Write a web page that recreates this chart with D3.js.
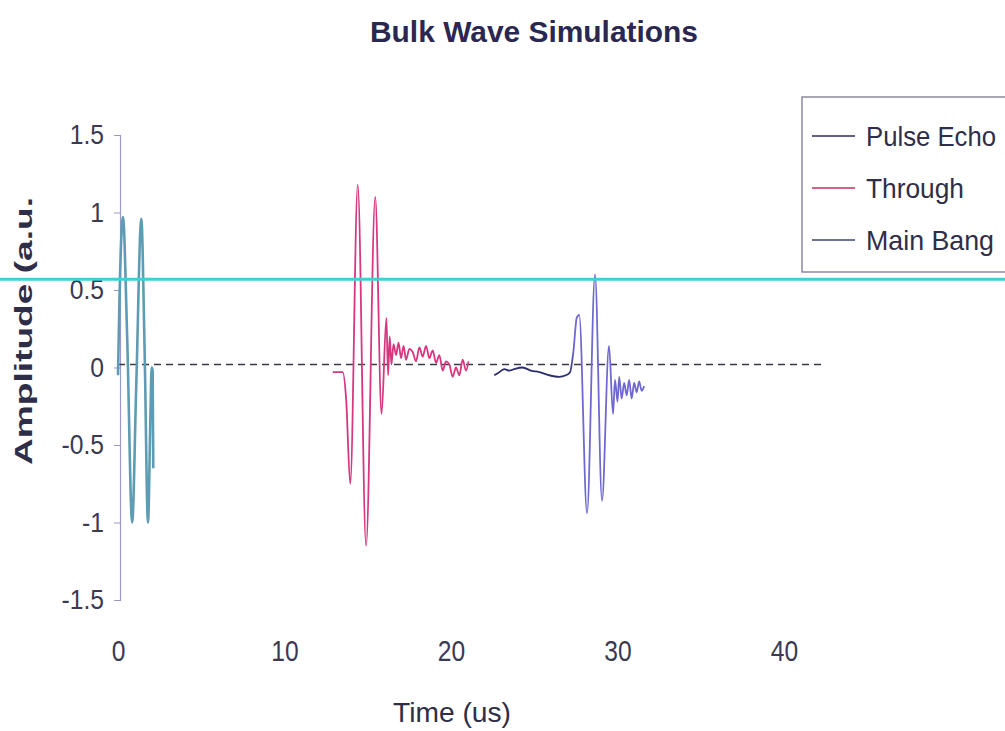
<!DOCTYPE html>
<html>
<head>
<meta charset="utf-8">
<script src="https://cdn.jsdelivr.net/npm/d3@7"></script>
<style>
  body { margin: 0; background: #fff; }
  svg { display: block; }
  text { fill: #2e2e48; }
</style>
</head>
<body>
<script>
// Series values (time in us, amplitude in a.u.)
const mainBangT = [0, 0.08, 0.3, 0.55, 0.85, 1.1, 1.4, 1.6, 1.8, 1.95, 2.02, 2.08, 2.12];
const mainBangA = [-0.05, 0.4, 0.97, 0.2, -1.0, -0.1, 0.96, 0.1, -1.0, -0.3, 0.0, -0.02, -0.65];

const throughT = [12.9, 13.5, 13.7, 13.95, 14.4, 14.9, 15.45, 15.83, 16.12, 16.22, 16.32, 16.42, 16.55, 16.7, 16.85, 17.0, 17.15, 17.3,
  17.5, 17.7, 17.9, 18.1, 18.3, 18.5, 18.7, 18.9, 19.1, 19.3, 19.5, 19.7, 19.9, 20.1, 20.3, 20.5, 20.7, 20.9, 21.05];
const throughA = [-0.03, -0.03, -0.2, -0.75, 1.18, -1.15, 1.1, -0.3, 0.32, -0.05, 0.2, 0.02, 0.15, 0.08, 0.16, 0.06, 0.14, 0.05,
  0.12, 0.1, 0.04, 0.13, 0.07, 0.14, 0.06, 0.11, 0.03, 0.08, -0.02, 0.04, 0.02, -0.06, 0.0, -0.05, 0.05, -0.02, 0.04];

const pulseT = [22.6, 22.9, 23.2, 23.5, 23.8, 24.3, 24.8, 25.3, 25.9, 26.5, 26.9, 27.15, 27.35, 27.55, 27.7, 28.17, 28.65, 29.07, 29.49,
  29.73, 29.85, 30.0, 30.1, 30.25, 30.4, 30.55, 30.7, 30.85, 31.0, 31.15, 31.3, 31.45, 31.6];
const pulseA = [-0.05, -0.03, -0.01, -0.02, -0.01, 0.0, -0.02, -0.03, -0.05, -0.06, -0.05, -0.03, 0.1, 0.32, 0.34, -0.94, 0.6, -0.86, 0.14,
  -0.3, -0.08, -0.22, -0.06, -0.2, -0.1, -0.18, -0.08, -0.2, -0.1, -0.16, -0.09, -0.15, -0.12];

const xTicks = [0, 10, 20, 30, 40];
const yTicks = [-1.5, -1, -0.5, 0, 0.5, 1, 1.5];
const seriesNames = ["Pulse Echo", "Through", "Main Bang"];
const thresholdLevel = 0.57; // cyan marker line
const xEnd = 42.5;           // where the dashed zero line stops

const W = 1005, H = 731;
const svg = d3.select("body").append("svg").attr("width", W).attr("height", H);

const xscale = d3.scaleLinear().domain([0, 40]).range([118, 784]);
const yscale = d3.scaleLinear().domain([-1.5, 1.5]).range([600, 135]);

const sans = "'Liberation Sans', Arial, sans-serif";

// squeeze text horizontally, the picture uses a narrow face
function narrow(sel, k) {
  sel.each(function() {
    const w = this.getComputedTextLength();
    d3.select(this).attr("textLength", w * k).attr("lengthAdjust", "spacingAndGlyphs");
  });
}

// title
svg.append("text")
  .attr("x", 534).attr("y", 42)
  .attr("text-anchor", "middle")
  .attr("textLength", 328).attr("lengthAdjust", "spacingAndGlyphs")
  .style("font-family", sans).style("font-weight", "bold").style("font-size", "29px")
  .style("fill", "#2a2850")
  .text("Bulk Wave Simulations");

// y axis
const yaxis = d3.axisLeft(yscale).tickValues(yTicks).tickSize(6).tickPadding(10)
  .tickFormat(d => String(d));
const gy = svg.append("g").attr("transform", `translate(${xscale(0) + 2},0)`).call(yaxis);
gy.select(".domain").attr("stroke", "#9a98c8").attr("stroke-width", 1.2);
gy.selectAll(".tick line").attr("stroke", "#9a98c8");
gy.selectAll("text").style("font-family", sans).style("font-size", "28px").style("fill", "#3a3a52")
  .call(narrow, 0.88);

// x axis labels (no axis line in the picture)
const xaxis = d3.axisBottom(xscale).tickValues(xTicks).tickSize(0).tickPadding(0);
const gx = svg.append("g").attr("transform", "translate(0,640)").call(xaxis);
gx.select(".domain").remove();
gx.selectAll("text").style("font-family", sans).style("font-size", "30px").style("fill", "#3a3a52")
  .call(narrow, 0.82);

// axis titles
svg.append("text")
  .attr("x", 452).attr("y", 722)
  .attr("text-anchor", "middle")
  .attr("textLength", 118).attr("lengthAdjust", "spacingAndGlyphs")
  .style("font-family", sans).style("font-size", "28px").style("fill", "#2e2e48")
  .text("Time (us)");

svg.append("text")
  .attr("transform", "translate(32,465) rotate(-90)")
  .attr("textLength", 268).attr("lengthAdjust", "spacingAndGlyphs")
  .style("font-family", sans).style("font-weight", "bold").style("font-size", "24px")
  .style("fill", "#2e2e48")
  .text("Amplitude (a.u.");

// dashed zero line
svg.append("line")
  .attr("x1", xscale(0)).attr("x2", xscale(xEnd))
  .attr("y1", yscale(0) - 3).attr("y2", yscale(0) - 3)
  .attr("stroke", "#3a3a48").attr("stroke-width", 1.3).attr("stroke-dasharray", "7,5");

const line = d3.line().x(d => xscale(d[0])).y(d => yscale(d[1])).curve(d3.curveMonotoneX);

// gradient for pulse echo: dark flat part, lighter echo
const defs = svg.append("defs");
const grad = defs.append("linearGradient").attr("id", "peGrad")
  .attr("gradientUnits", "userSpaceOnUse")
  .attr("x1", xscale(27.1)).attr("x2", xscale(27.4)).attr("y1", 0).attr("y2", 0);
grad.append("stop").attr("offset", 0).attr("stop-color", "#2a2e6e");
grad.append("stop").attr("offset", 1).attr("stop-color", "#6f68cf");

svg.append("path")
  .datum(mainBangT.map((t, i) => [t, mainBangA[i]]))
  .attr("d", line).attr("fill", "none")
  .attr("stroke", "#5d9cb3").attr("stroke-width", 2.6);

svg.append("path")
  .datum(throughT.map((t, i) => [t, throughA[i]]))
  .attr("d", line).attr("fill", "none")
  .attr("stroke", "#d8367e").attr("stroke-width", 1.8);

svg.append("path")
  .datum(pulseT.map((t, i) => [t, pulseA[i]]))
  .attr("d", line).attr("fill", "none")
  .attr("stroke", "url(#peGrad)").attr("stroke-width", 1.8);

// legend
const legendColors = ["#2c2c5e", "#c83058", "#3c4672"];
const legendWidths = [130, 98, 128];
const lg = svg.append("g");
lg.append("rect").attr("x", 802).attr("y", 97).attr("width", 220).attr("height", 175)
  .attr("fill", "#fff").attr("stroke", "#8a8aa0").attr("stroke-width", 1.5);
seriesNames.forEach((name, i) => {
  const cy = 136 + i * 52;
  lg.append("line").attr("x1", 812).attr("x2", 855).attr("y1", cy).attr("y2", cy)
    .attr("stroke", legendColors[i]).attr("stroke-width", 1.5);
  lg.append("text").attr("x", 866).attr("y", cy).attr("dy", "0.36em")
    .attr("textLength", legendWidths[i]).attr("lengthAdjust", "spacingAndGlyphs")
    .style("font-family", sans).style("font-size", "28px").style("fill", "#2e2e48")
    .text(name);
});

// cyan marker line across the whole picture
svg.append("line")
  .attr("x1", 0).attr("x2", W)
  .attr("y1", yscale(thresholdLevel)).attr("y2", yscale(thresholdLevel))
  .attr("stroke", "#3fcfd6").attr("stroke-width", 3);
</script>
</body>
</html>
